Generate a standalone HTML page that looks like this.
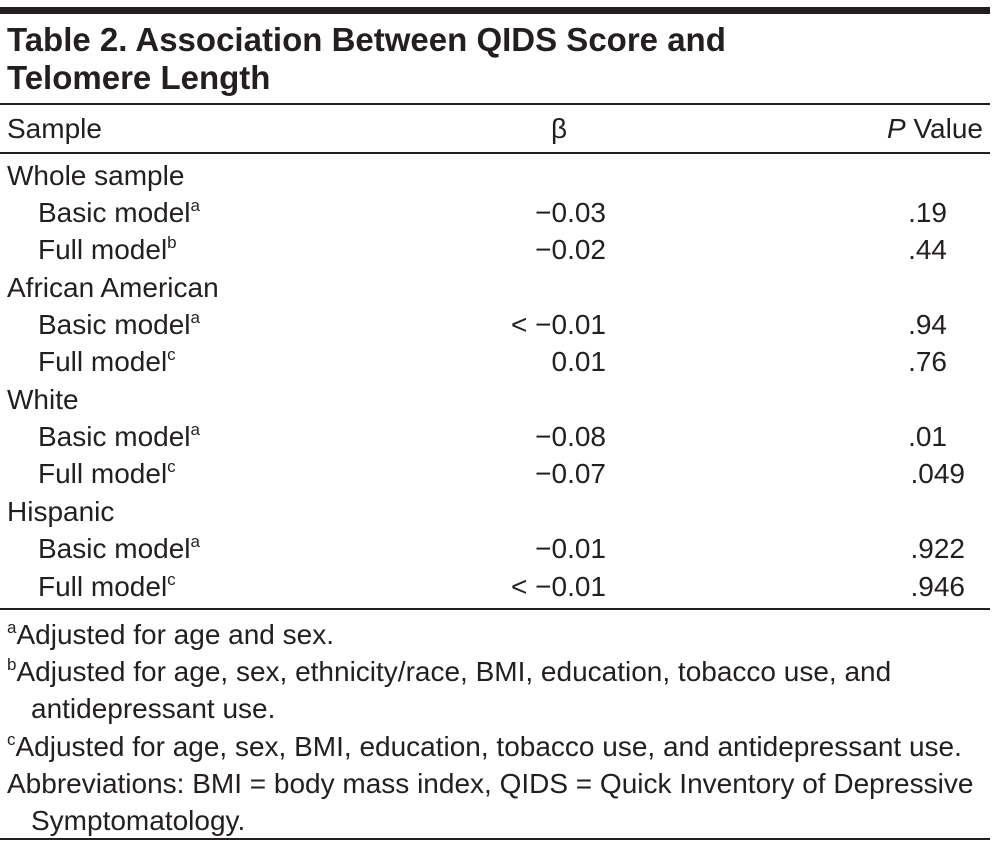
<!DOCTYPE html>
<html><head><meta charset="utf-8"><style>
body{margin:0;width:995px;height:847px;background:#fff;position:relative;overflow:hidden;font-family:"Liberation Sans",sans-serif;color:#231f20}
.t{position:absolute;font-size:28px;line-height:28px;white-space:nowrap}
.h{position:absolute;font-size:33px;line-height:34px;font-weight:bold;white-space:nowrap}
.r{position:absolute;left:0;background:#231f20;width:990px}
.ra{text-align:right}
sup{font-size:17px;vertical-align:11px;line-height:0}
</style></head><body>
<div class="r" style="top:7px;height:7px"></div>
<div class="h" style="left:7px;top:23px">Table 2. Association Between QIDS Score and</div>
<div class="h" style="left:7px;top:61px">Telomere Length</div>
<div class="r" style="top:103px;height:2px"></div>
<div class="t" style="left:7px;top:115px">Sample</div>
<div class="t" style="left:551px;top:115px">β</div>
<div class="t ra" style="right:12px;top:115px"><i>P</i> Value</div>
<div class="r" style="top:152px;height:2px"></div>

<div class="t" style="left:7px;top:162px">Whole sample</div>
<div class="t" style="left:38px;top:199px">Basic model<sup>a</sup></div><div class="t ra" style="right:389px;top:199px">−0.03</div><div class="t ra" style="right:48px;top:199px">.19</div>
<div class="t" style="left:38px;top:236px">Full model<sup>b</sup></div><div class="t ra" style="right:389px;top:236px">−0.02</div><div class="t ra" style="right:48px;top:236px">.44</div>
<div class="t" style="left:7px;top:274px">African American</div>
<div class="t" style="left:38px;top:311px">Basic model<sup>a</sup></div><div class="t ra" style="right:389px;top:311px">&lt; −0.01</div><div class="t ra" style="right:48px;top:311px">.94</div>
<div class="t" style="left:38px;top:348px">Full model<sup>c</sup></div><div class="t ra" style="right:389px;top:348px">0.01</div><div class="t ra" style="right:48px;top:348px">.76</div>
<div class="t" style="left:7px;top:386px">White</div>
<div class="t" style="left:38px;top:423px">Basic model<sup>a</sup></div><div class="t ra" style="right:389px;top:423px">−0.08</div><div class="t ra" style="right:48px;top:423px">.01</div>
<div class="t" style="left:38px;top:460px">Full model<sup>c</sup></div><div class="t ra" style="right:389px;top:460px">−0.07</div><div class="t ra" style="right:30px;top:460px">.049</div>
<div class="t" style="left:7px;top:498px">Hispanic</div>
<div class="t" style="left:38px;top:535px">Basic model<sup>a</sup></div><div class="t ra" style="right:389px;top:535px">−0.01</div><div class="t ra" style="right:30px;top:535px">.922</div>
<div class="t" style="left:38px;top:573px">Full model<sup>c</sup></div><div class="t ra" style="right:389px;top:573px">&lt; −0.01</div><div class="t ra" style="right:30px;top:573px">.946</div>
<div class="r" style="top:608px;height:2px"></div>

<div class="t" style="left:7px;top:621px"><sup>a</sup>Adjusted for age and sex.</div>
<div class="t" style="left:7px;top:658px"><sup>b</sup>Adjusted for age, sex, ethnicity/race, BMI, education, tobacco use, and</div>
<div class="t" style="left:31px;top:695px">antidepressant use.</div>
<div class="t" style="left:7px;top:733px"><sup>c</sup>Adjusted for age, sex, BMI, education, tobacco use, and antidepressant use.</div>
<div class="t" style="left:7px;top:770px">Abbreviations: BMI = body mass index, QIDS = Quick Inventory of Depressive</div>
<div class="t" style="left:31px;top:807px">Symptomatology.</div>
<div class="r" style="top:838px;height:2px"></div>
</body></html>
